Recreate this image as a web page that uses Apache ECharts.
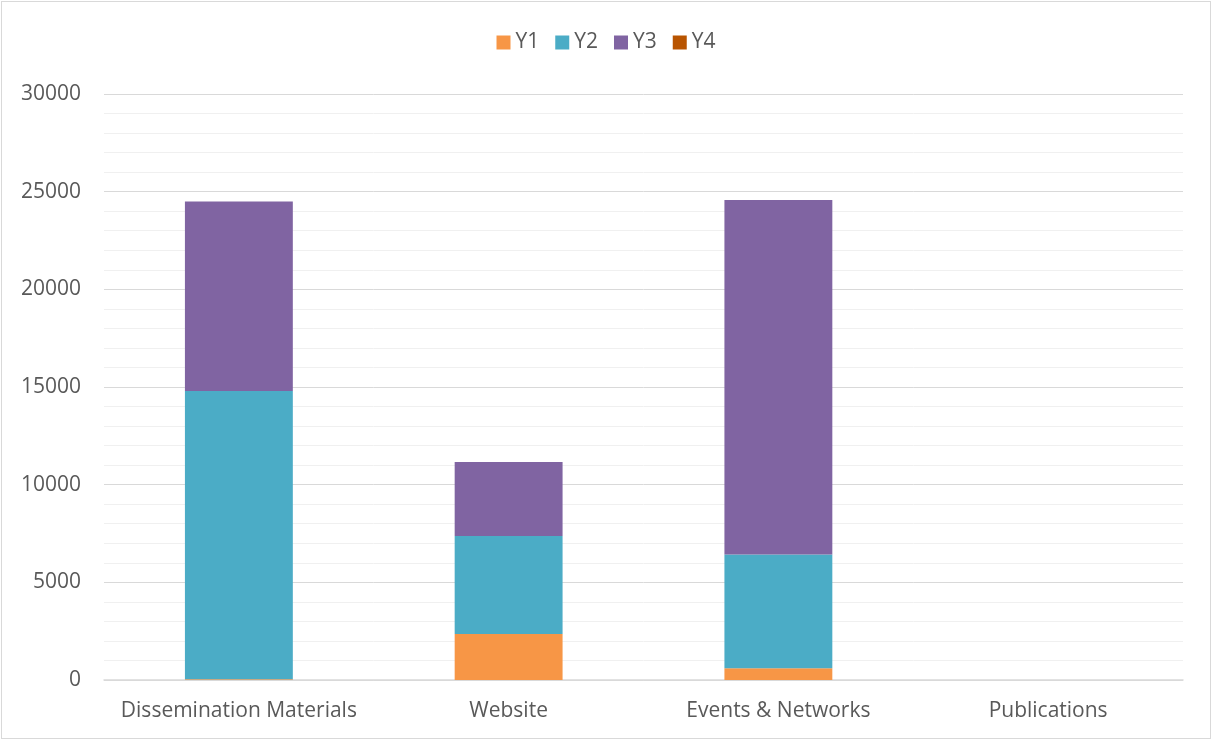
<!DOCTYPE html>
<html>
<head>
<meta charset="utf-8">
<script src="https://cdn.jsdelivr.net/npm/echarts@6/dist/echarts.min.js"></script>
<style>
	html, body { margin: 0; padding: 0; background: #fff; }
	#chart { position: absolute; left: 1px; top: 1px; width: 1208px; height: 736px; border: 1px solid #d9d9d9; }
</style>
</head>
<body>
<div id="chart"></div>
<script>
var categories = ['Dissemination Materials', 'Website', 'Events & Networks', 'Publications'];
var seriesNames = ['Y1', 'Y2', 'Y3', 'Y4'];
var y1 = [40, 2350, 600, 0];
var y2 = [14760, 5020, 5830, 0];
var y3 = [9700, 3790, 18140, 0];
var y4 = [0, 0, 0, 0];
var colors = ['#F79646', '#4BACC6', '#8064A2', '#B85400'];

var chart = echarts.init(document.getElementById('chart'));
var txt = '#595959';
var font = '"Open Sans", Lato, sans-serif';

var allData = [y1, y2, y3, y4];
var series = [];
for (var i = 0; i < seriesNames.length; i++) {
	series.push({
		name: seriesNames[i],
		type: 'bar',
		stack: 'total',
		barWidth: '40%',
		itemStyle: { color: colors[i] },
		data: allData[i]
	});
}

chart.setOption({
	animation: false,
	color: colors,
	textStyle: { fontFamily: font },
	legend: {
		top: 25,
		left: 'center',
		itemWidth: 14,
		itemHeight: 14,
		itemGap: 16,
		itemTextGap: 5,
		icon: 'rect',
		textStyle: { color: txt, fontSize: 21, fontFamily: font },
		data: seriesNames
	},
	grid: { left: 102, right: 27, top: 92, bottom: 58 },
	xAxis: {
		type: 'category',
		data: categories,
		axisLine: { lineStyle: { color: '#d9d9d9', width: 1.5 } },
		axisTick: { show: false },
		axisLabel: { color: txt, fontSize: 21, margin: 21, interval: 0, fontFamily: font }
	},
	yAxis: {
		type: 'value',
		min: 0,
		max: 30000,
		interval: 5000,
		axisLine: { show: false },
		axisTick: { show: false },
		axisLabel: {
			color: txt, fontSize: 21, margin: 23, fontFamily: font,
			formatter: function(v) { return String(v); }
		},
		splitLine: { lineStyle: { color: '#d9d9d9', width: 1 } },
		minorTick: { show: false, splitNumber: 5 },
		minorSplitLine: { show: true, lineStyle: { color: '#f0f0f0', width: 1 } }
	},
	series: series
});
</script>
</body>
</html>
